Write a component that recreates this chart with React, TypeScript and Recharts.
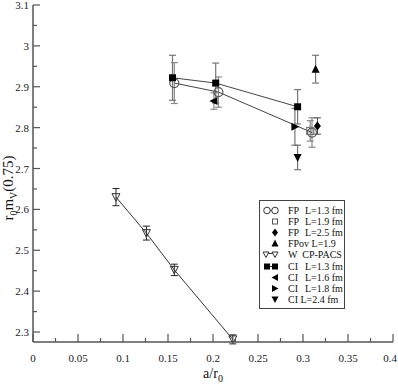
import React from 'react';
import { ScatterChart, Scatter, XAxis, YAxis, ErrorBar, Legend } from 'recharts';

// ---- data ----
const fp13X = [0.157, 0.206, 0.31];
const fp13Y = [2.909, 2.887, 2.788];
const fp13E = [0.05, 0.037, 0.036];

const fp19X = [0.308];
const fp19Y = [2.792];
const fp19E = [0.025];

const fp25X = [0.316];
const fp25Y = [2.804];
const fp25E = [0.02];

const fpovX = [0.314];
const fpovY = [2.943];
const fpovE = [0.034];

const wX = [0.0922, 0.126, 0.157, 0.222];
const wY = [2.63, 2.542, 2.452, 2.282];
const wE = [0.021, 0.017, 0.014, 0.011];

const ci13X = [0.155, 0.203, 0.294];
const ci13Y = [2.922, 2.909, 2.851];
const ci13E = [0.055, 0.049, 0.042];

const ci16X = [0.201];
const ci16Y = [2.865];
const ci16E = [0.02];

const ci18X = [0.291];
const ci18Y = [2.802];
const ci18E = [0.045];

const ci24X = [0.294];
const ci24Y = [2.727];
const ci24E = [0.03];

const xMajor = [0, 0.05, 0.1, 0.15, 0.2, 0.25, 0.3, 0.35, 0.4];
const xMinor = [0.025, 0.075, 0.125, 0.175, 0.225, 0.275, 0.325, 0.375];
const yMajor = [2.3, 2.4, 2.5, 2.6, 2.7, 2.8, 2.9, 3.0, 3.1];
const yMinor = [2.35, 2.45, 2.55, 2.65, 2.75, 2.85, 2.95, 3.05];

const legendLabels = [
  ['FP', 'L=1.3 fm'],
  ['FP', 'L=1.9 fm'],
  ['FP', 'L=2.5 fm'],
  ['FPov L=1.9', ''],
  ['W  CP-PACS', ''],
  ['CI', 'L=1.3 fm'],
  ['CI', 'L=1.6 fm'],
  ['CI', 'L=1.8 fm'],
  ['CI L=2.4 fm', ''],
];

const build = (xs: number[], ys: number[], es: number[]) =>
  xs.map((x, i) => ({ x, y: ys[i], err: es[i] }));

const FONT = '"Liberation Serif", "Times New Roman", "DejaVu Serif", serif';
const AXIS = '#555';

const isIn = (arr: number[], v: number) => arr.some((t) => Math.abs(t - v) < 1e-9);
const fmt = (v: number) => String(Number(v.toFixed(3)));

// ---- ticks ----
const BottomTick = (props: any) => {
  const { x, y, payload } = props;
  const major = isIn(xMajor, payload.value);
  const last = Math.abs(payload.value - 0.4) < 1e-9;
  return (
    <g>
      <line x1={x} x2={x} y1={y} y2={y - (major ? 8 : 4)} stroke={AXIS} strokeWidth={1.2} />
      {major && (
        <text x={last ? x - 3 : x} y={y + 20} textAnchor="middle" fontSize={11} fontFamily={FONT} fill="#222">
          {fmt(payload.value)}
        </text>
      )}
    </g>
  );
};
const TopTick = (props: any) => {
  const { x, y, payload } = props;
  const major = isIn(xMajor, payload.value);
  return <line x1={x} x2={x} y1={y} y2={y + (major ? 8 : 4)} stroke={AXIS} strokeWidth={1.2} />;
};
const LeftTick = (props: any) => {
  const { x, y, payload } = props;
  const major = isIn(yMajor, payload.value);
  return (
    <g>
      <line x1={x} x2={x + (major ? 7 : 4)} y1={y} y2={y} stroke={AXIS} strokeWidth={1.2} />
      {major && (
        <text x={x - 4} y={y + 4} textAnchor="end" fontSize={11} fontFamily={FONT} fill="#222">
          {fmt(payload.value)}
        </text>
      )}
    </g>
  );
};
const RightTick = (props: any) => {
  const { x, y, payload } = props;
  const major = isIn(yMajor, payload.value);
  return <line x1={x} x2={x - (major ? 7 : 4)} y1={y} y2={y} stroke={AXIS} strokeWidth={1.2} />;
};

// ---- marker shapes ----
const OpenCircle = (p: any) => (
  <circle cx={p.cx} cy={p.cy} r={4.5} fill="none" stroke="#555" strokeWidth={1.2} />
);
const OpenSquare = (p: any) => (
  <rect x={p.cx - 3.5} y={p.cy - 3.5} width={7} height={7} fill="none" stroke="#777" strokeWidth={1.2} />
);
const FilledSquare = (p: any) => (
  <rect x={p.cx - 3.5} y={p.cy - 3.5} width={7} height={7} fill="#000" />
);
const Diamond = (p: any) => (
  <polygon
    points={`${p.cx},${p.cy - 4.5} ${p.cx + 3.5},${p.cy} ${p.cx},${p.cy + 4.5} ${p.cx - 3.5},${p.cy}`}
    fill="#000"
  />
);
const UpTri = (p: any) => (
  <polygon points={`${p.cx},${p.cy - 4.5} ${p.cx + 4},${p.cy + 3.5} ${p.cx - 4},${p.cy + 3.5}`} fill="#000" />
);
const DownTri = (p: any) => (
  <polygon points={`${p.cx},${p.cy + 4.5} ${p.cx + 4},${p.cy - 3.5} ${p.cx - 4},${p.cy - 3.5}`} fill="#000" />
);
const OpenDownTri = (p: any) => (
  <polygon
    points={`${p.cx},${p.cy + 4} ${p.cx + 4},${p.cy - 3.5} ${p.cx - 4},${p.cy - 3.5}`}
    fill="none"
    stroke="#333"
    strokeWidth={1}
  />
);
const LeftTri = (p: any) => (
  <polygon points={`${p.cx - 4.5},${p.cy} ${p.cx + 3.5},${p.cy - 4} ${p.cx + 3.5},${p.cy + 4}`} fill="#000" />
);
const RightTri = (p: any) => (
  <polygon points={`${p.cx + 4.5},${p.cy} ${p.cx - 3.5},${p.cy - 4} ${p.cx - 3.5},${p.cy + 4}`} fill="#000" />
);

// ---- legend ----
const legendIcons: ((cx: number, cy: number) => React.ReactNode)[] = [
  (cx, cy) => (
    <g>
      <line x1={cx - 8} x2={cx} y1={cy} y2={cy} stroke="#333" />
      <circle cx={cx - 8} cy={cy} r={3.3} fill="#fff" stroke="#333" />
      <circle cx={cx} cy={cy} r={3.3} fill="#fff" stroke="#333" />
    </g>
  ),
  (cx, cy) => <rect x={cx - 2.5} y={cy - 2.5} width={5} height={5} fill="none" stroke="#555" />,
  (cx, cy) => (
    <polygon points={`${cx},${cy - 4} ${cx + 3},${cy} ${cx},${cy + 4} ${cx - 3},${cy}`} fill="#000" />
  ),
  (cx, cy) => <polygon points={`${cx},${cy - 4} ${cx + 3.5},${cy + 3} ${cx - 3.5},${cy + 3}`} fill="#000" />,
  (cx, cy) => (
    <g>
      <line x1={cx - 9} x2={cx} y1={cy - 1} y2={cy - 1} stroke="#333" />
      <polygon
        points={`${cx - 9},${cy + 3} ${cx - 12},${cy - 2.5} ${cx - 6},${cy - 2.5}`}
        fill="#fff"
        stroke="#333"
      />
      <polygon points={`${cx},${cy + 3} ${cx - 3},${cy - 2.5} ${cx + 3},${cy - 2.5}`} fill="#fff" stroke="#333" />
    </g>
  ),
  (cx, cy) => (
    <g>
      <line x1={cx - 8} x2={cx} y1={cy} y2={cy} stroke="#333" />
      <rect x={cx - 11} y={cy - 3} width={6} height={6} fill="#000" />
      <rect x={cx - 3} y={cy - 3} width={6} height={6} fill="#000" />
    </g>
  ),
  (cx, cy) => <polygon points={`${cx - 3.5},${cy} ${cx + 3},${cy - 3.5} ${cx + 3},${cy + 3.5}`} fill="#000" />,
  (cx, cy) => <polygon points={`${cx + 3.5},${cy} ${cx - 3},${cy - 3.5} ${cx - 3},${cy + 3.5}`} fill="#000" />,
  (cx, cy) => <polygon points={`${cx},${cy + 3.5} ${cx - 3.5},${cy - 3} ${cx + 3.5},${cy - 3}`} fill="#000" />,
];

const renderLegend = () => (
  <div
    style={{
      position: 'relative',
      width: 86,
      height: 109,
      border: '1px solid #444',
      boxSizing: 'border-box',
      background: '#fff',
      fontFamily: FONT,
      fontSize: 10,
      color: '#111',
    }}
  >
    {legendLabels.map((lab, i) => {
      const top = 4 + i * 11.1;
      return (
        <div key={i} style={{ position: 'absolute', left: 0, top, height: 11, width: 84, lineHeight: '11px' }}>
          <svg width={28} height={11} style={{ position: 'absolute', left: 0, top: 0 }}>
            {legendIcons[i](15, 5.5)}
          </svg>
          <span style={{ position: 'absolute', left: 28, top: 0, whiteSpace: 'pre' }}>{lab[0]}</span>
          {lab[1] && <span style={{ position: 'absolute', left: 45, top: 0, whiteSpace: 'pre' }}>{lab[1]}</span>}
        </div>
      );
    })}
  </div>
);

const XTitle = (props: any) => {
  const vb = props.viewBox || {};
  const cx = vb.x + vb.width / 2;
  return (
    <text x={cx} y={378} textAnchor="middle" fontFamily={FONT} fontSize={14} fill="#111">
      a/r
      <tspan fontSize={10} dy={4}>
        0
      </tspan>
    </text>
  );
};

const YTitle = () => (
  <text
    x={0}
    y={0}
    transform="translate(13,188) rotate(-90)"
    textAnchor="middle"
    fontFamily={FONT}
    fontSize={15}
    fill="#111"
  >
    r
    <tspan fontSize={10} dy={4}>
      0
    </tspan>
    <tspan dy={-4}>m</tspan>
    <tspan fontSize={10} dy={4}>
      V
    </tspan>
    <tspan dy={-4}>(0.75)</tspan>
  </text>
);

export default function App() {
  const xTicks = [...xMajor, ...xMinor].sort((a, b) => a - b);
  const yTicks = [...yMajor, ...yMinor].sort((a, b) => a - b);
  const xDom: [number, number] = [0, 0.4];
  const yDom: [number, number] = [2.2756, 3.1];
  return (
    <div style={{ position: 'absolute', left: 0, top: 0, width: 398, height: 387, background: '#fff' }}>
      <ScatterChart width={398} height={387} margin={{ top: 5, right: 5, bottom: 0, left: 0 }}>
        <XAxis
          xAxisId="b"
          dataKey="x"
          type="number"
          domain={xDom}
          ticks={xTicks}
          interval={0}
          tickSize={0}
          tickMargin={0}
          tickLine={false}
          axisLine={{ stroke: AXIS, strokeWidth: 1.5 }}
          tick={<BottomTick />}
          height={45}
          allowDataOverflow
          label={<XTitle />}
        />
        <XAxis
          xAxisId="t"
          orientation="top"
          type="number"
          domain={xDom}
          ticks={xTicks}
          interval={0}
          tickSize={0}
          tickMargin={0}
          tickLine={false}
          axisLine={{ stroke: AXIS, strokeWidth: 1.5 }}
          tick={<TopTick />}
          height={0}
          allowDataOverflow
        />
        <YAxis
          yAxisId="l"
          dataKey="y"
          type="number"
          domain={yDom}
          ticks={yTicks}
          interval={0}
          tickSize={0}
          tickMargin={0}
          tickLine={false}
          axisLine={{ stroke: AXIS, strokeWidth: 1.5 }}
          tick={<LeftTick />}
          width={33}
          allowDataOverflow
          label={<YTitle />}
        />
        <YAxis
          yAxisId="r"
          orientation="right"
          type="number"
          domain={yDom}
          ticks={yTicks}
          interval={0}
          tickSize={0}
          tickMargin={0}
          tickLine={false}
          axisLine={{ stroke: AXIS, strokeWidth: 1.5 }}
          tick={<RightTick />}
          width={0}
          allowDataOverflow
        />
        <Legend
          layout="vertical"
          align="center"
          verticalAlign="middle"
          content={renderLegend}
          wrapperStyle={{ position: 'absolute', left: 259, top: 200, width: 86, height: 109 }}
        />
        <Scatter xAxisId="b" yAxisId="l" name="W" data={build(wX, wY, wE)} shape={OpenDownTri}
          line={{ stroke: '#333', strokeWidth: 1 }} isAnimationActive={false}>
          <ErrorBar dataKey="err" direction="y" width={3.5} stroke="#222" strokeWidth={1} />
        </Scatter>
        <Scatter xAxisId="b" yAxisId="l" name="fp13" data={build(fp13X, fp13Y, fp13E)} shape={OpenCircle}
          line={{ stroke: '#444', strokeWidth: 1 }} isAnimationActive={false}>
          <ErrorBar dataKey="err" direction="y" width={3.5} stroke="#888" strokeWidth={1.2} />
        </Scatter>
        <Scatter xAxisId="b" yAxisId="l" name="fp19" data={build(fp19X, fp19Y, fp19E)} shape={OpenSquare}
          isAnimationActive={false}>
          <ErrorBar dataKey="err" direction="y" width={3.5} stroke="#888" strokeWidth={1.2} />
        </Scatter>
        <Scatter xAxisId="b" yAxisId="l" name="ci13" data={build(ci13X, ci13Y, ci13E)} shape={FilledSquare}
          line={{ stroke: '#444', strokeWidth: 1 }} isAnimationActive={false}>
          <ErrorBar dataKey="err" direction="y" width={3.5} stroke="#777" strokeWidth={1.2} />
        </Scatter>
        <Scatter xAxisId="b" yAxisId="l" name="fp25" data={build(fp25X, fp25Y, fp25E)} shape={Diamond}
          isAnimationActive={false}>
          <ErrorBar dataKey="err" direction="y" width={3.5} stroke="#444" strokeWidth={1} />
        </Scatter>
        <Scatter xAxisId="b" yAxisId="l" name="fpov" data={build(fpovX, fpovY, fpovE)} shape={UpTri}
          isAnimationActive={false}>
          <ErrorBar dataKey="err" direction="y" width={3.5} stroke="#777" strokeWidth={1.2} />
        </Scatter>
        <Scatter xAxisId="b" yAxisId="l" name="ci16" data={build(ci16X, ci16Y, ci16E)} shape={LeftTri}
          isAnimationActive={false}>
          <ErrorBar dataKey="err" direction="y" width={3.5} stroke="#777" strokeWidth={1} />
        </Scatter>
        <Scatter xAxisId="b" yAxisId="l" name="ci18" data={build(ci18X, ci18Y, ci18E)} shape={RightTri}
          isAnimationActive={false}>
          <ErrorBar dataKey="err" direction="y" width={3.5} stroke="#777" strokeWidth={1.2} />
        </Scatter>
        <Scatter xAxisId="b" yAxisId="l" name="ci24" data={build(ci24X, ci24Y, ci24E)} shape={DownTri}
          isAnimationActive={false}>
          <ErrorBar dataKey="err" direction="y" width={3.5} stroke="#777" strokeWidth={1.2} />
        </Scatter>
      </ScatterChart>
    </div>
  );
}
